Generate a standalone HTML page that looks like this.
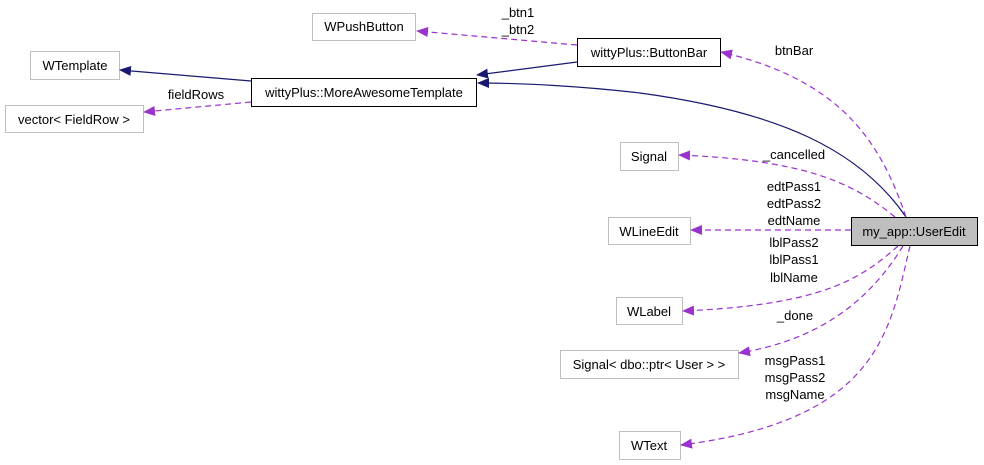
<!DOCTYPE html>
<html><head><meta charset="utf-8"><style>
html,body{margin:0;padding:0;background:#fff;}
svg{display:block;}
text{font-family:"Liberation Sans",Arial,sans-serif;font-size:13px;fill:#000;}
</style></head><body>
<svg width="984" height="465" viewBox="0 0 984 465" xmlns="http://www.w3.org/2000/svg">
<defs>
<marker id="an" markerWidth="12" markerHeight="10" refX="11" refY="5" orient="auto" markerUnits="userSpaceOnUse"><path d="M0,0 L12,5 L0,10 Z" fill="#191970"/></marker>
<marker id="ap" markerWidth="12" markerHeight="10" refX="11" refY="5" orient="auto" markerUnits="userSpaceOnUse"><path d="M0,0 L12,5 L0,10 Z" fill="#9a32cd"/></marker>
</defs>
<g fill="#fff" stroke="#bfbfbf" stroke-width="1">
<rect x="312.5" y="13.5" width="103" height="27"/>
<rect x="30.5" y="51.5" width="89" height="28"/>
<rect x="5.5" y="105.5" width="138" height="27"/>
<rect x="620.5" y="142.5" width="58" height="28"/>
<rect x="608.5" y="217.5" width="82" height="27"/>
<rect x="616.5" y="297.5" width="66" height="27"/>
<rect x="560.5" y="350.5" width="178" height="28"/>
<rect x="619.5" y="431.5" width="61" height="28"/>
</g>
<rect x="251.5" y="78.5" width="225" height="28" fill="#fff" stroke="#000"/>
<rect x="577.5" y="38.5" width="143" height="28" fill="#fff" stroke="#000"/>
<rect x="851.5" y="217.5" width="126" height="28" fill="#bfbfbf" stroke="#000"/>
<g fill="none" stroke="#191970" stroke-width="1.2">
<path d="M251,81 L120,70" marker-end="url(#an)"/>
<path d="M577,62 L477,75" marker-end="url(#an)"/>
<path d="M906,217 C860,150 780,112 640,93 C580,86 520,83 478,83" marker-end="url(#an)"/>
</g>
<g fill="none" stroke="#9a32cd" stroke-width="1.2" stroke-dasharray="6,4">
<path d="M577,45 L417,31" marker-end="url(#ap)"/>
<path d="M251,102 L144,112" marker-end="url(#ap)"/>
<path d="M906,217 C880,140 840,80 721,52" marker-end="url(#ap)"/>
<path d="M895,217 C850,180 800,160 679,155" marker-end="url(#ap)"/>
<path d="M851,230 L691,230" marker-end="url(#ap)"/>
<path d="M898,246 C860,280 820,305 683,311" marker-end="url(#ap)"/>
<path d="M903,246 C870,300 820,340 739,353" marker-end="url(#ap)"/>
<path d="M910,246 C890,330 880,420 681,445" marker-end="url(#ap)"/>
</g>
<g text-anchor="middle">
<text x="364" y="31">WPushButton</text>
<text x="75" y="70">WTemplate</text>
<text x="74" y="124">vector&lt; FieldRow &gt;</text>
<text x="364" y="97">wittyPlus::MoreAwesomeTemplate</text>
<text x="649" y="57">wittyPlus::ButtonBar</text>
<text x="914" y="236">my_app::UserEdit</text>
<text x="649" y="161">Signal</text>
<text x="649" y="236">WLineEdit</text>
<text x="649" y="316">WLabel</text>
<text x="649" y="369">Signal&lt; dbo::ptr&lt; User &gt; &gt;</text>
<text x="649" y="450">WText</text>
<text x="518" y="17">_btn1</text>
<text x="518" y="34">_btn2</text>
<text x="196" y="99">fieldRows</text>
<text x="794" y="55">btnBar</text>
<text x="794" y="159">_cancelled</text>
<text x="794" y="191">edtPass1</text>
<text x="794" y="208">edtPass2</text>
<text x="794" y="225">edtName</text>
<text x="794" y="247">lblPass2</text>
<text x="794" y="264">lblPass1</text>
<text x="794" y="282">lblName</text>
<text x="795" y="320">_done</text>
<text x="795" y="365">msgPass1</text>
<text x="795" y="382">msgPass2</text>
<text x="795" y="399">msgName</text>
</g>
</svg>
</body></html>
